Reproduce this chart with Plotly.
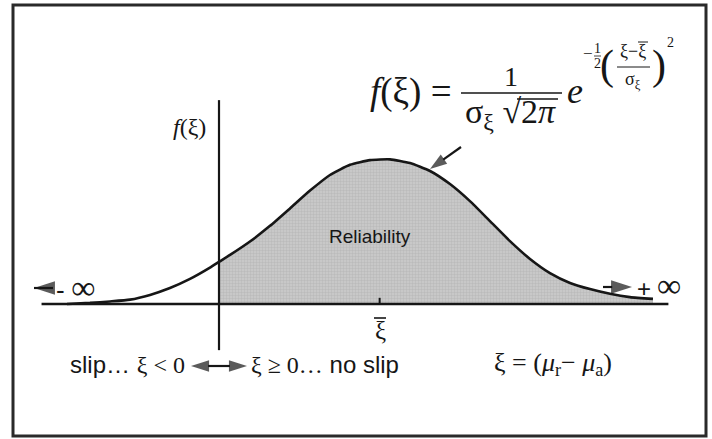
import plotly.graph_objects as go

# curve f(xi), xi in sigma units (vertical axis at xi = 0)
curve_xi = [-1.448, -1.229, -1.038, -0.848, -0.657, -0.467, -0.276, -0.086, 0.0, 0.105, 0.295,
            0.486, 0.676, 0.867, 1.057, 1.248, 1.438, 1.629, 1.819, 2.010, 2.200, 2.390, 2.581,
            2.771, 2.962, 3.152, 3.343, 3.533, 3.724, 3.914, 4.133]
curve_f = [0.0, 0.003, 0.007, 0.012, 0.025, 0.044, 0.069, 0.100, 0.116, 0.135, 0.172,
           0.215, 0.263, 0.312, 0.355, 0.383, 0.396, 0.398, 0.388, 0.366, 0.330, 0.283, 0.228,
           0.173, 0.124, 0.085, 0.058, 0.041, 0.028, 0.019, 0.014]

xi_bar = 1.53
axis_xi = [-1.69, 4.28]          # horizontal axis extent
axis_f = [-0.127, 0.561]         # vertical axis extent (at xi = 0)
tick_f = [0.0, 0.017]

W, H = 712, 439
# pixel <-> data mapping used for the layout only
X0, XS = 219, 105.0
Y0, YS = 304, 363.4


def px(x):
    return x / W


def py(y):
    return 1 - y / H


def dx(p):
    return (p - X0) / XS


def dy(p):
    return (Y0 - p) / YS


serif = "Liberation Serif"
sans = "Liberation Sans"
ink = "#161616"

fig = go.Figure()

# shaded reliability region (xi >= 0)
shade_xi = [x for x in curve_xi if x >= 0]
shade_f = [f for x, f in zip(curve_xi, curve_f) if x >= 0]
fig.add_trace(go.Scatter(x=shade_xi, y=shade_f, mode="lines", fill="tozeroy",
                         line=dict(width=0, shape="spline", smoothing=0.5),
                         fillcolor="#c2c2c2",
                         fillpattern=dict(shape="+", size=3, solidity=0.25,
                                          fgcolor="#a0a0a0", bgcolor="#c8c8c8"),
                         hoverinfo="skip"))

fig.add_trace(go.Scatter(x=curve_xi, y=curve_f, mode="lines",
                         line=dict(color=ink, width=2.6, shape="spline", smoothing=0.5),
                         hoverinfo="skip"))

# axes
fig.add_trace(go.Scatter(x=axis_xi, y=[0, 0], mode="lines",
                         line=dict(color=ink, width=2.4), hoverinfo="skip"))
fig.add_trace(go.Scatter(x=[0, 0], y=axis_f, mode="lines",
                         line=dict(color=ink, width=2.2), hoverinfo="skip"))
fig.add_trace(go.Scatter(x=[xi_bar, xi_bar], y=tick_f, mode="lines",
                         line=dict(color=ink, width=2), hoverinfo="skip"))


def arrow(x0, y0, x1, y1, size=22, width=2.2):
    # line from (x0, y0) to (x1, y1) with an arrow head at the end
    fig.add_trace(go.Scatter(x=[dx(x0), dx(x1)], y=[dy(y0), dy(y1)], mode="lines+markers",
                             line=dict(color=ink, width=width),
                             marker=dict(symbol="arrow", size=[0, size], color=ink,
                                         angleref="previous", line=dict(width=0)),
                             hoverinfo="skip"))


# infinity arrows
arrow(53, 288, 34, 288)
arrow(603, 287, 632, 287)
# slip / no slip double arrow
arrow(219, 366, 191, 366, size=19)
arrow(219, 366, 247, 366, size=19)
# pointer to curve
arrow(461, 147, 430, 169, size=18)

ann = []


def text(x, y, t, size, family=serif, xanchor="center"):
    ann.append(dict(x=px(x), y=py(y), xref="paper", yref="paper", text=t, showarrow=False,
                    xanchor=xanchor, yanchor="middle",
                    font=dict(family=family, size=size, color=ink)))


# axis labels
text(208, 127, "<i>f</i>(ξ)", 24, xanchor="right")
text(380, 330, "ξ", 25)
text(370, 236, "Reliability", 19, family=sans)

text(54, 287, "<span style='font-family:Liberation Sans'>-</span> <span style='font-size:34px'>∞</span>",
     26, xanchor="left")
text(635, 285, "<span style='font-family:Liberation Sans'>+</span> <span style='font-size:34px'>∞</span>",
     24, xanchor="left")

# slip / no slip
text(187, 364, "slip… <span style='font-family:Liberation Serif'>ξ &lt; 0</span>", 24,
     family=sans, xanchor="right")
text(249, 364, "<span style='font-family:Liberation Serif'>ξ ≥ 0…</span> no slip", 24,
     family=sans, xanchor="left")
text(492, 364, "ξ = (<i>μ</i><sub>r</sub>− <i>μ</i><sub>a</sub>)", 26, xanchor="left")

# formula
text(368, 92, "<i>f</i>(ξ) =", 37, xanchor="left")
text(511, 77, "1", 28)
text(510, 114, "σ<sub>ξ</sub> √2<i>π</i>", 34)
text(575, 91, "<i>e</i>", 36)
text(588, 54, "−", 17)
text(597, 48, "1", 14)
text(597, 64, "2", 14)
text(607, 66, "(", 42)
text(633, 51, "ξ−ξ", 18)
text(633, 80, "σ<sub>ξ</sub>", 18)
text(659, 66, ")", 42)
text(670, 42, "2", 14)


def seg(x0, x1, y, width):
    return dict(type="line", xref="paper", yref="paper", x0=px(x0), x1=px(x1), y0=py(y), y1=py(y),
                line=dict(color=ink, width=width))


fig.update_layout(
    width=W, height=H, autosize=False,
    margin=dict(l=0, r=0, t=0, b=0),
    paper_bgcolor="white", plot_bgcolor="white",
    showlegend=False,
    xaxis=dict(range=[dx(0), dx(W)], visible=False, fixedrange=True),
    yaxis=dict(range=[dy(H), dy(0)], visible=False, fixedrange=True),
    annotations=ann,
    shapes=[
        dict(type="rect", xref="paper", yref="paper", x0=px(13), x1=px(706), y0=py(436), y1=py(5),
             line=dict(color="#2a2a2a", width=3)),
        seg(461, 562, 93, 1.6),      # main fraction bar
        seg(517, 558, 99, 1.3),      # square root bar
        seg(594, 601, 56, 0.8),      # 1/2 bar
        seg(617, 650, 67, 1.0),      # exponent fraction bar
        seg(638, 648, 42, 1.0),      # bar over xi in exponent
        seg(374, 386, 318, 1.6),     # bar over xi label
    ],
)

fig.write_html("out.html", config={"displayModeBar": False},
               post_script="document.body.style.margin='0';")
